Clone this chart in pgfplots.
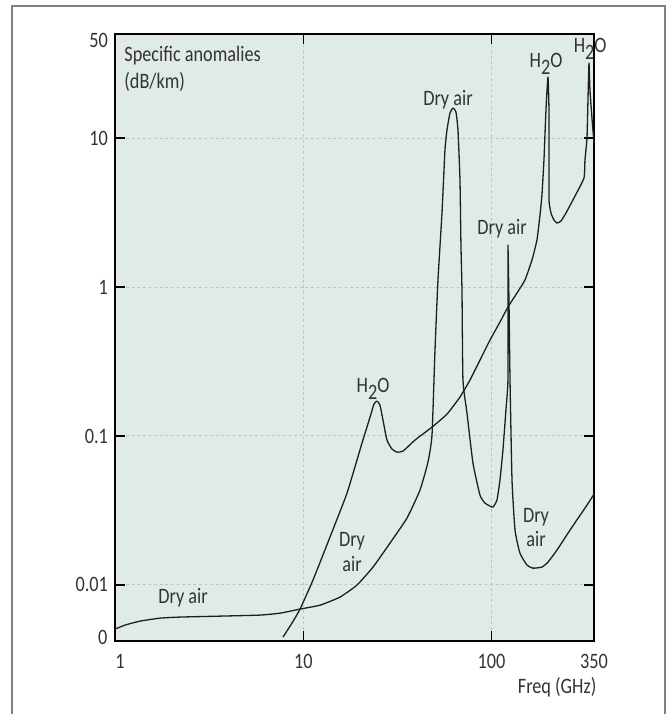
\documentclass[border=0pt]{standalone}
\usepackage{fontspec}
\setmainfont{Carlito}[FakeStretch=0.83]
\usepackage{pgfplots}
\pgfplotsset{compat=1.18}

\definecolor{panel}{RGB}{224,234,230}
\definecolor{ink}{RGB}{51,51,51}
\definecolor{curvecol}{RGB}{30,30,30}
\definecolor{gridc}{RGB}{190,196,194}
\definecolor{framec}{RGB}{128,128,128}

% Specific attenuation (dB/km) against frequency (GHz)
\pgfplotstableread{
f a
1 0.00505
1.130 0.00537
1.357 0.00571
1.734 0.00598
2.214 0.00608
3.611 0.00617
5.890 0.00627
7.520 0.00646
9.61 0.00688
12.27 0.00731
15.66 0.00828
19.28 0.00997
23.46 0.01317
28.87 0.01908
35.54 0.02809
41.67 0.04331
45.94 0.06677
48.27 0.1014
50.06 0.3774
51.92 1.114
54.53 3.140
56.56 8.317
57.97 11.33
60.14 14.74
62.37 15.92
64.70 14.97
66.31 11.33
67.95 5.231
68.80 1.856
69.64 0.9544
70.49 0.2373
74.03 0.1425
79.67 0.06575
86.77 0.04009
92.24 0.03541
98.1 0.03381
101.7 0.03329
106.8 0.03711
110.8 0.05056
114.9 0.08036
119.2 0.1492
122.2 0.2373
122.2 0.8177
122.2 1.914
123.7 0.8177
125.3 0.2373
128.4 0.05056
133.2 0.02333
141.5 0.01634
154.2 0.01358
166.0 0.01296
185.2 0.01317
199.3 0.01422
222.5 0.01713
260.9 0.02333
321.2 0.03433
350 0.04071
}\dryair

\pgfplotstableread{
f a
7.80 0.00446
8.71 0.00554
9.61 0.00688
11.26 0.01077
13.86 0.02094
17.07 0.04135
20.50 0.0896
21.79 0.1147
22.88 0.1402
23.74 0.1637
24.63 0.1715
25.54 0.1612
26.50 0.1278
27.83 0.0938
29.59 0.0816
31.45 0.0779
33.84 0.0791
39.20 0.0938
48.27 0.1147
57.97 0.1402
67.95 0.1825
76.80 0.2373
86.8 0.3233
98.1 0.4404
110.8 0.5818
122.2 0.7338
136.4 0.9112
150.4 1.114
163.9 1.518
174.2 2.068
180.8 3.044
185.2 4.147
189.8 7.127
194.5 15.44
199.3 25.72
201.8 15.44
201.8 7.127
201.8 3.839
206.8 3.140
214.5 2.818
222.5 2.690
233.7 2.775
248.4 3.140
277.4 4.083
309.6 5.395
313.4 7.127
321.2 10.01
325.1 18.02
329.1 31.93
333.1 21.03
341.4 13.64
350 9.27
}\water

\begin{document}
\begin{tikzpicture}[
  lab/.style={font=\fontsize{11}{13}\selectfont, text=ink, inner sep=0pt}]
\path[use as bounding box] (0,0) rectangle (336pt,357pt);
\draw[framec, line width=1pt] (6pt,0) -- (6pt,354pt) -- (332.5pt,354pt) -- (332.5pt,0);
\begin{axis}[
  at={(57.5pt,36.5pt)}, anchor=south west,
  scale only axis, width=239.5pt, height=303.5pt,
  xmode=log, ymode=log,
  xmin=1, xmax=350, ymin=0.0042, ymax=50,
  axis background/.style={fill=panel},
  axis line style={line width=0.8pt, black},
  xtick={1,10,100,350}, xticklabels={\hspace*{5pt}1,10,100,350},
  ytick={0.01,0.1,1,10}, yticklabels={0.01,0.1,1,10},
  extra y ticks={50}, extra y tick labels={50},
  extra y tick style={grid=none, yticklabel style={yshift=-3pt}},
  xminorticks=false, yminorticks=false,
  tick align=inside, major tick length=5pt,
  tick style={line width=0.65pt, black},
  grid=major,
  major grid style={gridc, line width=0.5pt, dash pattern=on 1.4pt off 1.4pt},
  ticklabel style={font=\fontsize{11}{13}\selectfont, text=ink},
  xticklabel style={yshift=-3pt},
  clip=false,
]
\addplot[curvecol, line width=0.65pt, line join=round, smooth, tension=0.3] table[x=f, y=a] {\dryair};
\addplot[curvecol, line width=0.65pt, line join=round, smooth, tension=0.3] table[x=f, y=a] {\water};

\node[lab, anchor=base west] at (rel axis cs:0.0188,0.954) {Specific anomalies};
\node[lab, anchor=base west] at (rel axis cs:0.0188,0.911) {(dB/km)};
\node[lab, anchor=east, inner sep=3.67pt] at ([yshift=2pt]rel axis cs:0,0) {0};
\node[lab, anchor=base] at (rel axis cs:0.142,0.0626) {Dry air};
\node[lab, anchor=base] at (rel axis cs:0.4948,0.1565) {Dry};
\node[lab, anchor=base] at (rel axis cs:0.4948,0.1137) {air};
\node[lab, anchor=base] at (rel axis cs:0.5386,0.410) {H\raisebox{-3.5pt}{2}O};
\node[lab, anchor=base] at (rel axis cs:0.6952,0.883) {Dry air};
\node[lab, anchor=base] at (rel axis cs:0.808,0.669) {Dry air};
\node[lab, anchor=base] at (rel axis cs:0.900,0.944) {H\raisebox{-3.5pt}{2}O};
\node[lab, anchor=base] at (rel axis cs:0.992,0.970) {H\raisebox{-3.5pt}{2}O};
\node[lab, anchor=base] at (rel axis cs:0.879,0.196) {Dry};
\node[lab, anchor=base] at (rel axis cs:0.879,0.155) {air};
\node[lab, anchor=base] at (rel axis cs:0.923,-0.0857) {Freq (GHz)};
\end{axis}
\end{tikzpicture}
\end{document}
